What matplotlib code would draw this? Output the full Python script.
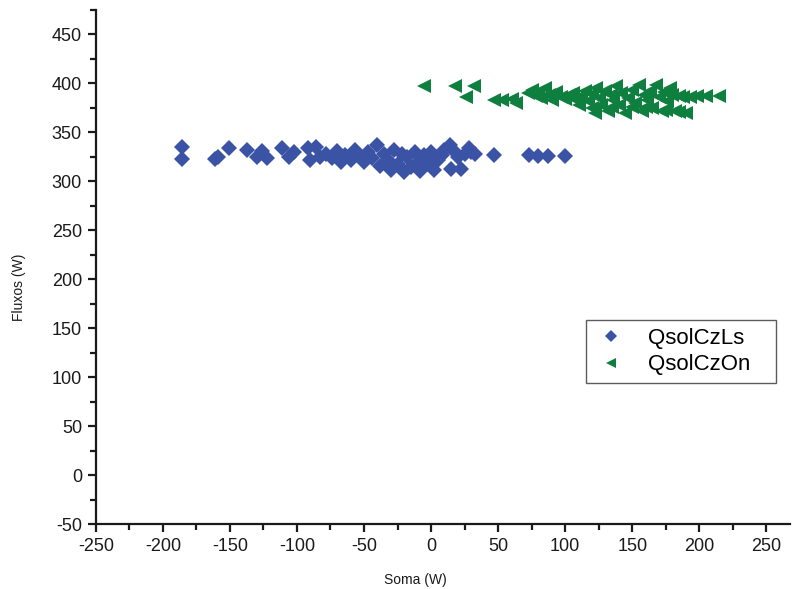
import numpy as np
import matplotlib.pyplot as plt
from matplotlib.ticker import MultipleLocator

# QsolCzLs (blue diamonds)
ls_x = [-186, -186, -161, -159, -151, -137, -130, -126, -122, -111, -106, -102,
        -92, -90, -86, -83, -78, -74, -70, -67, -64, -60, -57, -54, -50, -47,
        -44, -40, -38, -35, -32, -30, -28, -25, -22, -20, -18, -15, -12, -10,
        -8, -5, -2, 0, 2, 5, 8, 10, 14, 15, 18, 20, 22, 25, 28, 30, 33, 47,
        73, 80, 87, 100]
ls_y = [335, 323, 323, 325, 334, 332, 325, 331, 324, 334, 325, 330,
        334, 322, 335, 325, 328, 324, 331, 320, 327, 322, 332, 326, 320, 330,
        324, 337, 316, 328, 322, 312, 332, 318, 328, 310, 325, 315, 330, 320,
        311, 327, 318, 330, 312, 322, 327, 332, 337, 313, 330, 325, 313, 328, 334, 330, 328, 327,
        327, 326, 326, 326]

# QsolCzOn (green left triangles)
on_x = [-5, 18, 32, 26, 47, 53, 60, 63, 72, 75, 78, 80, 82, 85, 88, 90, 93,
        97, 100, 103, 106, 108, 110, 112, 115, 117, 120, 122, 123, 125, 127,
        130, 132, 134, 136, 138, 140, 142, 145, 147, 150, 152, 155, 157, 159,
        161, 163, 165, 168, 170, 172, 174, 176, 178, 180, 182, 185, 188, 193,
        198, 205, 215, 120, 135, 150, 160, 175, 185, 190]
on_y = [397, 397, 397, 386, 383, 383, 384, 380, 390, 393, 387, 391, 385, 395,
        388, 383, 391, 386, 384, 388, 390, 383, 378, 387, 392, 382, 389, 370,
        395, 385, 378, 392, 372, 388, 383, 397, 378, 390, 370, 385, 393, 380,
        398, 372, 388, 383, 392, 375, 398, 386, 372, 391, 382, 395, 388, 372,
        387, 386, 386, 387, 387, 387, 375, 376, 376, 376, 373, 371, 370]

plt.rcParams['font.family'] = ['Liberation Sans', 'DejaVu Sans']
plt.rcParams['axes.unicode_minus'] = False

fig = plt.figure(figsize=(7.92, 5.89), dpi=100)
ax = fig.add_axes([0.121, 0.110, 0.877, 0.873])

ax.plot(ls_x, ls_y, 'D', color='#3A53A4', markersize=8.5, markeredgewidth=0, label='QsolCzLs')
ax.plot(on_x, on_y, '<', color='#0F7F3F', markersize=10, markeredgewidth=0, label='QsolCzOn')

ax.set_xlim(-250, 268)
ax.set_ylim(-50, 475)
ax.xaxis.set_major_locator(MultipleLocator(50))
ax.xaxis.set_minor_locator(MultipleLocator(25))
ax.yaxis.set_minor_locator(MultipleLocator(25))
ax.set_yticks(np.arange(-50, 451, 50))

for side in ['top', 'right']:
    ax.spines[side].set_visible(False)
for side in ['left', 'bottom']:
    ax.spines[side].set_linewidth(1.6)
    ax.spines[side].set_color('#1a1a1a')

ax.tick_params(which='major', direction='out', length=6, width=1.6, labelsize=13,
               colors='#1a1a1a', pad=4)
ax.tick_params(which='minor', direction='out', length=4, width=1.6, colors='#1a1a1a')

ax.set_xlabel('Soma (W)', fontsize=10, color='#1a1a1a')
ax.set_ylabel('Fluxos (W)', fontsize=10, color='#1a1a1a')
ax.xaxis.set_label_coords(0.46, -0.095)
ax.yaxis.set_label_coords(-0.1, 0.46)

leg = ax.legend(loc='upper left', bbox_to_anchor=(0.705, 0.0, 0.274, 0.397),
                mode='expand', fontsize=16,
                frameon=True, fancybox=False, borderpad=0.35, handletextpad=0.85,
                labelspacing=0.25, handlelength=1.6, borderaxespad=0,
                markerscale=0.7)
leg.get_frame().set_edgecolor('#333333')
leg.get_frame().set_linewidth(1.0)

fig.savefig('out.png', dpi=100)
